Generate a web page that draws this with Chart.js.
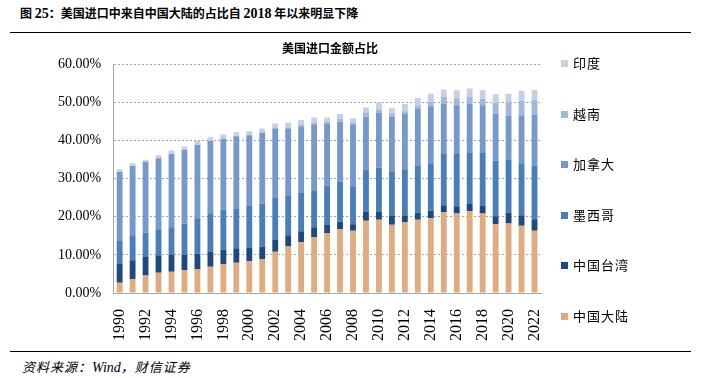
<!DOCTYPE html>
<html>
<head>
<meta charset="utf-8">
<script src="https://cdn.jsdelivr.net/npm/chart.js@4.4.1/dist/chart.umd.min.js"></script>
<style>
  body { margin: 0; background: #fff; width: 701px; height: 378px; position: relative; overflow: hidden; font-family: "Noto Sans CJK SC", sans-serif; color: #000; }
  .fig-title { position: absolute; left: 20px; top: 4px; font-size: 12px; font-weight: bold; white-space: nowrap; }
  .fig-title .num { font-family: "Liberation Serif", serif; font-size: 14px; }
  .chart-title { position: absolute; left: 230px; width: 200px; top: 39px; text-align: center; font-size: 12px; font-weight: bold; }
  .rule { position: absolute; left: 10px; width: 681px; height: 0; border-top: 1.5px solid #000; }
  .source { position: absolute; left: 22px; top: 357px; font-size: 13px; font-style: italic; letter-spacing: 1px; white-space: nowrap; }
  .source .num { font-family: "Liberation Serif", serif; font-size: 14px; letter-spacing: 0; }
  #wrap { position: absolute; left: 0; top: 36px; }
  #legend { position: absolute; left: 561px; top: 55px; }
  #legend .item { height: 50.5px; line-height: 15px; font-size: 13px; letter-spacing: 1px; white-space: nowrap; }
  #legend .box { display: inline-block; width: 7px; height: 7px; margin-right: 5px; vertical-align: 1px; }
</style>
</head>
<body>
<div class="fig-title">图 <span class="num">25</span>：美国进口中来自中国大陆的占比自 <span class="num">2018</span> 年以来明显下降</div>
<div class="rule" style="top:32px"></div>
<div id="wrap"><canvas id="importChart" width="655" height="313"></canvas></div>
<div class="chart-title">美国进口金额占比</div>
<div id="legend"></div>
<div class="rule" style="top:351px"></div>
<div class="source">资料来源：<span class="num">Wind</span>，财信证券</div>

<script>
const years = ['1990', '1991', '1992', '1993', '1994', '1995', '1996', '1997', '1998', '1999',
  '2000', '2001', '2002', '2003', '2004', '2005', '2006', '2007', '2008', '2009',
  '2010', '2011', '2012', '2013', '2014', '2015', '2016', '2017', '2018', '2019',
  '2020', '2021', '2022'];

// 各经济体占美国进口金额的比重（%）
const mainland = [2.7, 3.7, 4.6, 5.3, 5.6, 6.0, 6.3, 6.9, 7.6, 7.9,
  8.3, 8.9, 10.8, 12.2, 13.3, 14.7, 15.7, 16.7, 16.3, 18.9,
  19.2, 17.9, 18.6, 19.2, 19.6, 21.2, 20.8, 21.5, 20.8, 18.0,
  18.2, 17.6, 16.3];
const taiwan = [5.0, 4.9, 4.8, 4.6, 4.5, 4.1, 4.0, 4.0, 3.8, 3.8,
  3.6, 3.3, 3.2, 2.9, 2.9, 2.5, 2.1, 2.0, 1.7, 2.3,
  2.0, 2.3, 1.7, 1.8, 2.0, 1.8, 1.9, 1.8, 2.0, 2.1,
  2.9, 2.8, 3.0];
const mexico = [5.9, 6.5, 6.4, 6.8, 7.1, 8.1, 9.3, 10.0, 10.4, 10.3,
  10.9, 11.2, 10.9, 10.5, 10.0, 9.7, 10.3, 10.5, 10.0, 11.0,
  11.7, 11.5, 12.1, 12.3, 12.4, 13.4, 13.7, 13.4, 13.9, 14.6,
  13.9, 13.6, 14.0];
const canada = [18.1, 18.2, 18.6, 18.6, 19.2, 19.3, 19.2, 18.9, 18.6, 19.1,
  18.5, 18.6, 18.1, 17.4, 17.4, 17.3, 16.3, 15.7, 16.2, 14.0,
  14.4, 14.5, 14.5, 14.9, 14.9, 13.1, 12.8, 12.8, 12.5, 12.3,
  11.4, 12.4, 13.5];
const vietnam = [0, 0, 0, 0, 0.05, 0.1, 0.1, 0.1, 0.1, 0.1,
  0.1, 0.1, 0.2, 0.4, 0.4, 0.4, 0.4, 0.7, 0.5, 1.1,
  0.7, 0.7, 0.7, 0.9, 1.3, 1.9, 1.8, 1.9, 1.7, 2.8,
  3.6, 4.0, 3.8];
const india = [0.7, 0.7, 0.5, 0.8, 0.9, 0.8, 0.9, 0.9, 1.0, 0.9,
  1.0, 1.0, 1.2, 1.3, 1.3, 1.4, 1.2, 1.3, 1.1, 1.3,
  1.9, 1.5, 1.9, 2.0, 2.0, 1.9, 2.1, 2.2, 2.2, 2.3,
  2.2, 2.6, 2.6];

const yTicks = [0, 10, 20, 30, 40, 50, 60];

const serif = '"Liberation Serif", "Times New Roman", serif';

function series(label, data, color) {
  return {
    label: label,
    data: data,
    backgroundColor: color,
    borderWidth: 0,
    barPercentage: 0.45,
    categoryPercentage: 1.0
  };
}

const ctx = document.getElementById('importChart');
const chart = new Chart(ctx, {
  type: 'bar',
  data: {
    labels: years,
    datasets: [
      series('中国大陆', mainland, '#dfac82'),
      series('中国台湾', taiwan, '#1f497d'),
      series('墨西哥', mexico, '#4a7ebb'),
      series('加拿大', canada, '#7699cb'),
      series('越南', vietnam, '#a3b7d9'),
      series('印度', india, '#c6d0e5')
    ]
  },
  options: {
    responsive: false,
    animation: false,
    devicePixelRatio: 1,
    layout: { padding: { left: 46, right: 114, top: 28, bottom: 0 } },
    plugins: {
      legend: { display: false },
      tooltip: { enabled: false }
    },
    scales: {
      x: {
        stacked: true,
        grid: { display: false },
        border: { color: '#a6a6a6' },
        ticks: {
          autoSkip: false,
          maxRotation: 90,
          minRotation: 90,
          padding: 8,
          color: '#000',
          font: { family: serif, size: 16 },
          callback: (v, i) => (i % 2 === 0 ? years[i] : '')
        }
      },
      y: {
        stacked: true,
        min: yTicks[0],
        max: yTicks[yTicks.length - 1],
        grid: { color: '#a6a6a6', drawTicks: false },
        border: { color: '#a6a6a6', dash: [2, 2] },
        ticks: {
          stepSize: 10,
          padding: 12,
          color: '#000',
          font: { family: serif, size: 14 },
          callback: v => v.toFixed(2) + '%'
        }
      }
    }
  }
});

// 图例：右侧竖排，顺序与堆叠相反
const legend = document.getElementById('legend');
chart.data.datasets.slice().reverse().forEach(ds => {
  legend.innerHTML += `<div class="item"><span class="box" style="background:${ds.backgroundColor}"></span>${ds.label}</div>`;
});
</script>
</body>
</html>
